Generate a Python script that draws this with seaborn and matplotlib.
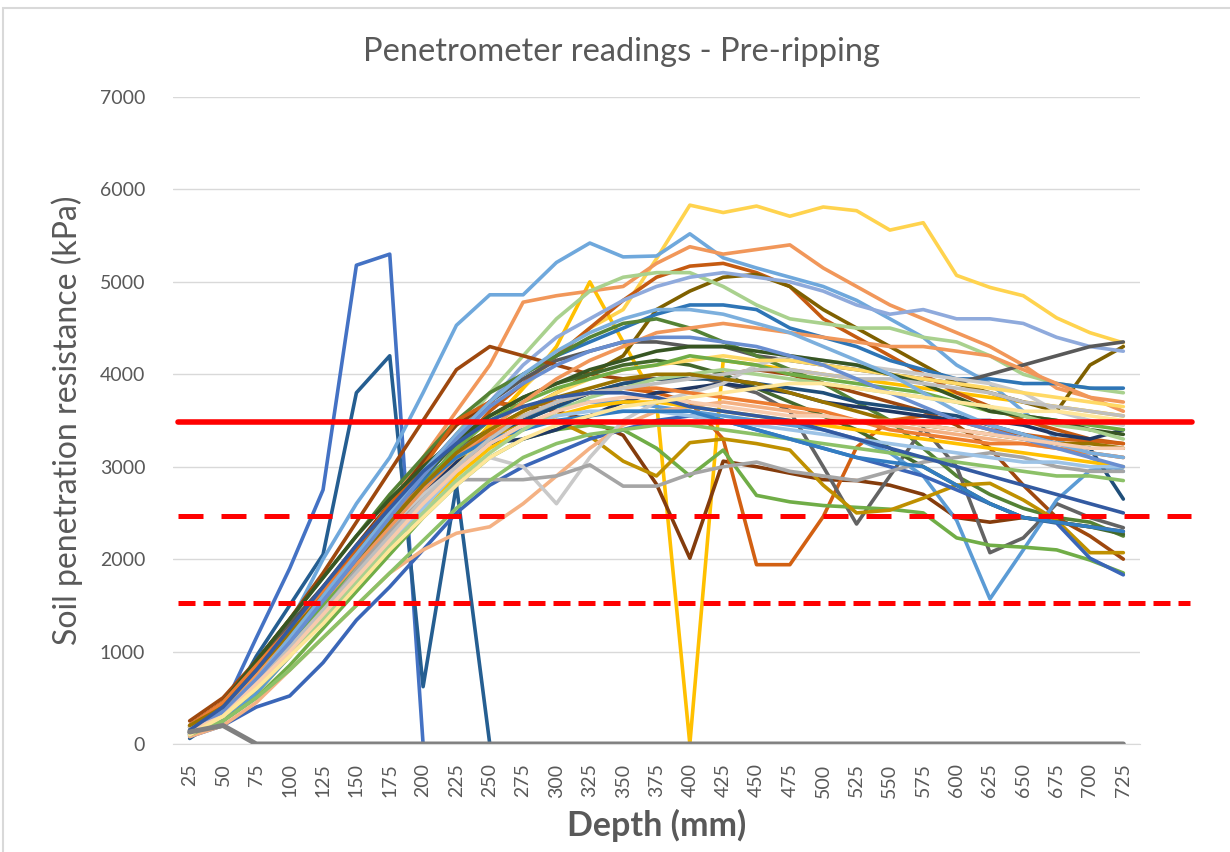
import matplotlib
matplotlib.use("Agg")
import matplotlib.pyplot as plt
import numpy as np
import pandas as pd
import seaborn as sns
from matplotlib.patches import Rectangle

# depth categories (mm)
depth = [25, 50, 75, 100, 125, 150, 175, 200, 225, 250, 275, 300, 325, 350, 375,
         400, 425, 450, 475, 500, 525, 550, 575, 600, 625, 650, 675, 700, 725]

# penetrometer readings (kPa), one list per probe
r01 = [100, 380, 1150, 1900, 2750, 5180, 5300, 0, 0, 0, 0, 0, 0, 0, 0,
       0, 0, 0, 0, 0, 0, 0, 0, 0, 0, 0, 0, 0, 0]
r02 = [60, 300, 950, 1500, 2050, 3800, 4200, 620, 2800, 0, 0, 0, 0, 0, 0,
       0, 0, 0, 0, 0, 0, 0, 0, 0, 0, 0, 0, 0, 0]
r04 = [120, 350, 650, 1000, 1450, 1850, 2250, 2650, 3050, 3450, 3850, 4200, 4500, 4700, 5250,
       5830, 5750, 5820, 5710, 5810, 5770, 5560, 5640, 5070, 4940, 4850, 4610, 4450, 4340]
r05 = [100, 300, 550, 950, 1350, 1750, 2150, 2600, 3050, 3450, 3850, 4300, 5000, 4350, 3700,
       0, 4150, 4100, 4050, 4000, 3950, 3900, 3850, 3800, 3750, 3700, 3650, 3600, 3550]
r06 = [120, 300, 700, 1300, 2000, 2600, 3100, 3800, 4530, 4860, 4860, 5210, 5420, 5270, 5280,
       5520, 5260, 5150, 5050, 4950, 4800, 4600, 4400, 4100, 3900, 3600, 3300, 3100, 2950]
r07 = [200, 400, 700, 1100, 1600, 2100, 2600, 3100, 3600, 4100, 4780, 4850, 4900, 4950, 5200,
       5380, 5300, 5350, 5400, 5150, 4950, 4750, 4600, 4450, 4300, 4100, 3850, 3750, 3600]
r08 = [180, 420, 800, 1200, 1600, 2000, 2400, 2800, 3200, 3600, 3900, 4200, 4500, 4800, 5050,
       5170, 5200, 5100, 4950, 4600, 4400, 4200, 4000, 3800, 3650, 3500, 3400, 3300, 3250]
r09 = [150, 400, 800, 1200, 1600, 2000, 2400, 2800, 3200, 3400, 3600, 3800, 4000, 4200, 4700,
       4900, 5050, 5080, 4950, 4700, 4500, 4300, 4100, 3900, 3800, 3700, 3600, 4100, 4300]
r10 = [150, 350, 700, 1100, 1550, 2000, 2450, 2900, 3350, 3800, 4200, 4600, 4900, 5050, 5100,
       5100, 4950, 4750, 4600, 4550, 4500, 4500, 4400, 4350, 4200, 4000, 3900, 3850, 3800]
r11 = [130, 330, 700, 1100, 1500, 1950, 2400, 2850, 3300, 3700, 4100, 4400, 4600, 4800, 4950,
       5050, 5100, 5050, 5000, 4900, 4750, 4650, 4700, 4600, 4600, 4550, 4400, 4300, 4250]
r12 = [100, 300, 650, 1050, 1500, 1950, 2400, 2850, 3300, 3700, 4000, 4200, 4350, 4500, 4650,
       4750, 4750, 4700, 4500, 4400, 4300, 4150, 4050, 3950, 3950, 3900, 3900, 3850, 3850]
r13 = [200, 450, 900, 1300, 1700, 2100, 2550, 2950, 3350, 3700, 3950, 4150, 4250, 4350, 4350,
       4300, 4300, 4200, 4150, 4100, 4050, 4000, 3950, 3900, 4000, 4100, 4200, 4300, 4350]
r14 = [180, 450, 900, 1350, 1800, 2250, 2700, 3100, 3500, 3800, 4000, 4200, 4400, 4550, 4600,
       4500, 4350, 4200, 4050, 3900, 3700, 3500, 3200, 2900, 2700, 2550, 2450, 2400, 2250]
r15 = [250, 500, 900, 1350, 1850, 2400, 2950, 3500, 4050, 4300, 4200, 4100, 4000, 3950, 3950,
       3950, 4000, 4050, 4000, 3900, 3800, 3700, 3600, 3450, 3200, 2800, 2450, 2250, 2000]
r16 = [200, 450, 850, 1250, 1700, 2150, 2600, 3050, 3450, 3700, 3650, 3600, 3500, 3340, 2810,
       2010, 3060, 3000, 2930, 2860, 2850, 2800, 2700, 2450, 2400, 2450, 2400, 2350, 2300]
r17 = [200, 450, 800, 1200, 1650, 2100, 2600, 3000, 3500, 3700, 3650, 3700, 3800, 3850, 3800,
       3700, 3300, 1940, 1940, 2460, 3210, 3500, 3550, 3500, 3400, 3350, 3300, 3280, 3250]
r18 = [150, 400, 800, 1200, 1600, 2000, 2400, 2800, 3200, 3350, 3500, 3650, 3800, 3900, 3950,
       4000, 3900, 3800, 3600, 3000, 2380, 2900, 3420, 3000, 2070, 2230, 2600, 2450, 2340]
r19 = [100, 250, 550, 950, 1400, 1850, 2300, 2750, 3150, 3400, 3550, 3650, 3700, 3700, 3650,
       3600, 3550, 3500, 3450, 3400, 3300, 3150, 2900, 2420, 1570, 2100, 2640, 2960, 3000]
r20 = [100, 250, 500, 850, 1250, 1650, 2050, 2450, 2800, 3100, 3300, 3400, 3450, 3400, 3200,
       2900, 3180, 2690, 2620, 2580, 2560, 2540, 2500, 2230, 2150, 2130, 2100, 1990, 1850]
r21 = [120, 300, 600, 950, 1350, 1750, 2150, 2550, 2950, 3300, 3500, 3500, 3330, 3060, 2900,
       3260, 3300, 3250, 3180, 2800, 2500, 2530, 2660, 2800, 2820, 2640, 2420, 2070, 2070]
r22 = [80, 200, 400, 520, 880, 1340, 1700, 2100, 2500, 2800, 3000, 3150, 3300, 3400, 3500,
       3550, 3500, 3400, 3300, 3200, 3100, 3000, 2900, 2750, 2600, 2450, 2390, 2010, 1830]
r23 = [150, 380, 750, 1150, 1600, 2050, 2500, 2900, 3250, 3550, 3750, 3900, 4000, 4100, 4150,
       4100, 4000, 3850, 3700, 3550, 3400, 3200, 3000, 2800, 2600, 2450, 2400, 2350, 2270]
r24 = [100, 300, 650, 1050, 1500, 1950, 2400, 2800, 3100, 3350, 3500, 3650, 3800, 3900, 3950,
       3950, 3950, 3900, 3850, 3800, 3700, 3650, 3600, 3550, 3450, 3350, 3250, 3200, 2650]
r25 = [120, 350, 700, 1100, 1500, 1900, 2300, 2700, 3050, 3250, 3300, 3400, 3550, 3700, 3800,
       3850, 3900, 3850, 3800, 3700, 3650, 3600, 3550, 3500, 3500, 3450, 3350, 3300, 3400]
r26 = [80, 200, 450, 800, 1150, 1500, 1850, 2100, 2280, 2350, 2600, 2900, 3200, 3450, 3600,
       3650, 3700, 3650, 3600, 3550, 3500, 3450, 3400, 3350, 3300, 3250, 3200, 3150, 3100]
r27 = [200, 400, 750, 1100, 1500, 1900, 2300, 2700, 3000, 3100, 3000, 2600, 3100, 3500, 3700,
       3800, 3900, 4100, 4200, 4150, 4100, 4050, 4000, 3950, 3900, 3800, 3600, 3500, 3450]
r28 = [150, 350, 700, 1100, 1500, 1900, 2300, 2650, 2860, 2860, 2860, 2900, 3020, 2790, 2790,
       2920, 3000, 3050, 2950, 2900, 2850, 2950, 3050, 3100, 3150, 3100, 3000, 2950, 2950]
r29 = [150, 350, 650, 1000, 1400, 1800, 2200, 2600, 3000, 3350, 3600, 3800, 3950, 4050, 4100,
       4150, 4200, 4150, 4150, 4100, 4050, 4000, 3950, 3900, 3850, 3800, 3750, 3700, 3650]
r30 = [120, 300, 600, 950, 1350, 1750, 2150, 2550, 2900, 3200, 3400, 3550, 3650, 3700, 3700,
       3650, 3600, 3550, 3500, 3450, 3400, 3350, 3300, 3250, 3200, 3150, 3100, 3050, 3000]
r31 = [150, 350, 700, 1100, 1500, 1950, 2400, 2800, 3200, 3500, 3700, 3850, 3950, 4050, 4100,
       4200, 4150, 4100, 4000, 3950, 3900, 3850, 3800, 3700, 3600, 3550, 3500, 3450, 3400]
r32 = [180, 450, 900, 1350, 1800, 2250, 2650, 3000, 3300, 3550, 3750, 3900, 4050, 4150, 4250,
       4300, 4300, 4250, 4200, 4150, 4100, 4000, 3900, 3750, 3600, 3550, 3500, 3400, 3350]
r33 = [200, 450, 850, 1250, 1650, 2050, 2450, 2800, 3100, 3350, 3550, 3700, 3800, 3850, 3850,
       3800, 3750, 3700, 3650, 3600, 3500, 3400, 3350, 3300, 3250, 3250, 3200, 3150, 3100]
r34 = [150, 400, 750, 1150, 1550, 1950, 2350, 2750, 3100, 3400, 3700, 3950, 4150, 4300, 4450,
       4500, 4550, 4500, 4450, 4400, 4350, 4300, 4300, 4250, 4200, 4050, 3900, 3750, 3700]
r35 = [100, 300, 600, 950, 1350, 1750, 2150, 2550, 2950, 3250, 3450, 3550, 3600, 3600, 3600,
       3550, 3500, 3450, 3400, 3350, 3300, 3250, 3200, 3150, 3100, 3050, 3050, 3000, 3000]
r36 = [100, 250, 500, 800, 1150, 1500, 1850, 2200, 2550, 2850, 3100, 3250, 3350, 3400, 3450,
       3450, 3400, 3350, 3300, 3250, 3200, 3150, 3100, 3050, 3000, 2950, 2900, 2900, 2850]
r37 = [120, 350, 700, 1100, 1550, 2000, 2400, 2800, 3100, 3300, 3400, 3500, 3550, 3600, 3600,
       3600, 3500, 3400, 3300, 3200, 3100, 3050, 3000, 2800, 2600, 2450, 2400, 2350, 2300]
r38 = [150, 300, 600, 950, 1350, 1750, 2150, 2500, 2850, 3150, 3400, 3600, 3750, 3850, 3950,
       4000, 4050, 4000, 3950, 3900, 3850, 3800, 3750, 3700, 3650, 3550, 3450, 3400, 3300]
r39 = [180, 350, 700, 1050, 1450, 1850, 2250, 2650, 3000, 3300, 3550, 3700, 3800, 3850, 3900,
       3950, 4000, 4050, 4050, 4000, 3950, 3950, 3900, 3850, 3800, 3700, 3650, 3600, 3550]
r40 = [200, 400, 800, 1200, 1600, 2000, 2400, 2800, 3150, 3400, 3600, 3750, 3850, 3950, 4000,
       4000, 3950, 3900, 3800, 3700, 3600, 3500, 3450, 3400, 3350, 3300, 3250, 3250, 3200]
r41 = [150, 350, 700, 1150, 1600, 2050, 2500, 2950, 3350, 3700, 4000, 4250, 4450, 4600, 4700,
       4700, 4650, 4550, 4450, 4300, 4150, 4000, 3800, 3600, 3450, 3350, 3250, 3150, 3100]
r42 = [130, 350, 700, 1100, 1550, 2000, 2450, 2900, 3300, 3650, 3900, 4100, 4250, 4350, 4400,
       4400, 4350, 4300, 4200, 4100, 3950, 3800, 3650, 3500, 3400, 3300, 3200, 3100, 3000]
r43 = [150, 300, 650, 1000, 1400, 1800, 2200, 2600, 2950, 3250, 3450, 3600, 3700, 3750, 3750,
       3700, 3650, 3600, 3550, 3550, 3500, 3500, 3450, 3400, 3350, 3300, 3250, 3200, 3200]
r44 = [150, 400, 800, 1250, 1700, 2150, 2550, 2950, 3250, 3500, 3650, 3750, 3800, 3800, 3750,
       3650, 3600, 3550, 3500, 3400, 3300, 3200, 3100, 3000, 2900, 2800, 2700, 2600, 2500]
r45 = [100, 300, 600, 950, 1300, 1700, 2100, 2450, 2800, 3100, 3300, 3450, 3550, 3650, 3700,
       3750, 3800, 3850, 3900, 3900, 3850, 3800, 3750, 3700, 3650, 3600, 3600, 3550, 3500]
r03 = [130, 200, 0, 0, 0, 0, 0, 0, 0, 0, 0, 0, 0, 0, 0,
       0, 0, 0, 0, 0, 0, 0, 0, 0, 0, 0, 0, 0, 0]

# reference thresholds (kPa)
threshold_solid = 3480
threshold_dash = 2470
threshold_dot = 1530

readings = [r01, r02, r04, r05, r06, r07, r08, r09, r10, r11, r12, r13, r14, r15, r16,
            r17, r18, r19, r20, r21, r22, r23, r24, r25, r26, r27, r28, r29, r30, r31,
            r32, r33, r34, r35, r36, r37, r38, r39, r40, r41, r42, r43, r44, r45, r03]
colours = ['#4472C4', '#255E91', '#FFD34E', '#FFC000', '#6FA8DC', '#F1975A', '#C55A11',
           '#7F6000', '#A9D18E', '#8FAADC', '#2E75B6', '#595959', '#548235', '#9E480E',
           '#843C0C', '#D26012', '#636363', '#5B9BD5', '#70AD47', '#BF9000', '#3A66B8',
           '#43682B', '#1F4E79', '#203864', '#F4B183', '#C9C9C9', '#A5A5A5', '#FFD966',
           '#FFC000', '#70AD47', '#375623', '#ED7D31', '#F1975A', '#9DC3E6', '#8CC168',
           '#327DC2', '#A9D18E', '#BFBFBF', '#997300', '#7CAFDD', '#698ED0', '#F8CBAD',
           '#335AA1', '#FFE699', '#808080']

rows = []
for i, vals in enumerate(readings):
    assert len(vals) == len(depth), i
    for d, v in zip(depth, vals):
        rows.append({'Depth': d, 'kPa': v, 'Reading': 'R%02d' % i})
df = pd.DataFrame(rows)
names = ['R%02d' % i for i in range(len(readings))]

sns.set_style("white")
plt.rcParams['font.family'] = ['Lato', 'DejaVu Sans']
grey = '#595959'

fig = plt.figure(figsize=(12.3, 8.52), dpi=100)
ax = fig.add_axes([173 / 1230, 1 - 744 / 852, (1140 - 173) / 1230, (744 - 97) / 852])

sns.lineplot(data=df, x='Depth', y='kPa', hue='Reading', hue_order=names,
             palette=dict(zip(names, colours)), legend=False, linewidth=2.6,
             estimator=None, sort=False, ax=ax)
# the all-zero reading sits on the axis and shows thicker
ax.lines[-1].set_linewidth(3.6)

# threshold lines, reaching a bit past the plot area like the drawn shapes
ax.axhline(threshold_solid, xmin=0.005, xmax=1.054, color='#FF0000', lw=4,
           clip_on=False, zorder=10)
ax.axhline(threshold_dash, xmin=0.005, xmax=1.053, color='#FF0000', lw=3.6,
           dashes=(5, 3.6), clip_on=False, zorder=10)
ax.axhline(threshold_dot, xmin=0.005, xmax=1.052, color='#FF0000', lw=3.6,
           dashes=(3.4, 1.6), clip_on=False, zorder=10)

ax.set_xlim(12.5, 737.5)
ax.set_ylim(0, 7000)
ax.set_xticks(depth)
ax.set_xticklabels([str(d) for d in depth], rotation=90, fontsize=14, color=grey)
ax.set_yticks(range(0, 7001, 1000))
ax.set_yticklabels([str(v) for v in range(0, 7001, 1000)], fontsize=14, color=grey)
ax.tick_params(axis='both', length=0)
ax.tick_params(axis='x', pad=14)
ax.tick_params(axis='y', pad=20)
ax.grid(axis='y', color='#D9D9D9', lw=1)
ax.set_axisbelow(True)
for s in ['top', 'right', 'left']:
    ax.spines[s].set_visible(False)
ax.spines['bottom'].set_color('#D9D9D9')

ax.set_xlabel('Depth (mm)', fontsize=24.5, fontweight='bold', color=grey, labelpad=8)
ax.set_ylabel('Soil penetration resistance (kPa)', fontsize=23, color=grey, labelpad=12)
fig.text(0.505, 1 - 52 / 852, 'Penetrometer readings - Pre-ripping', fontsize=23.5,
         color=grey, ha='center', va='center')

# chart area border
fig.patches.append(Rectangle((3 / 1230, -0.05), 1.1, 1 - 8 / 852 + 0.05, fill=False,
                             edgecolor='#D9D9D9', lw=1.5, transform=fig.transFigure))

fig.savefig('out.png', dpi=100)
